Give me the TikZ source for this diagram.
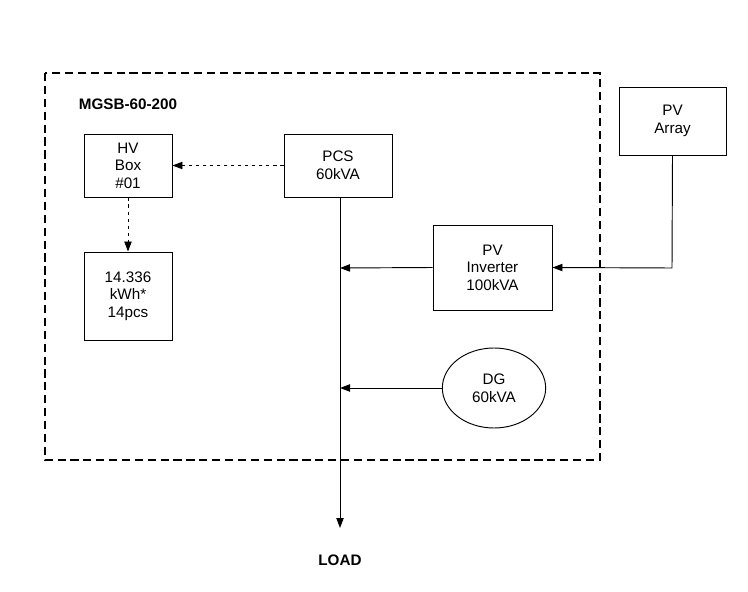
\documentclass[tikz,border=0pt]{standalone}
\usepackage{fontspec}
\setmainfont{Liberation Sans}
\usetikzlibrary{arrows.meta}
\usetikzlibrary{positioning}
\usetikzlibrary{shapes.geometric}
\begin{document}
\begin{tikzpicture}[
				x=0.03cm, y=-0.03cm,
				font=\fontsize{13}{15}\selectfont,
				arrow/.style={thick, -{Triangle[length=3mm, width=2.2mm]}},
				darrow/.style={thick, dashed, -{Triangle[length=3mm, width=2.2mm]}},
				block/.style={draw, thick, align=center, inner sep=0pt},
			]
				\useasboundingbox (0,0) rectangle (748,592);
				\draw[very thick, dash pattern=on 7pt off 4pt] (45,73) rectangle (600,460);
				\node[font=\fontsize{13}{15}\selectfont\bfseries] (title) at (128,104) {MGSB-60-200};

				\node[block, minimum width=88\pgflinewidth, text width=2.64cm, minimum height=1.89cm] (hvbox) at (128,165.5) {HV\\Box\\\#01};
				\node[block, text width=3.24cm, minimum height=1.89cm] (pcs) at (338,165.5) {PCS\\60kVA};
				\node[block, text width=2.64cm, minimum height=2.64cm] (battery) at (128,296) {14.336\\kWh*\\14pcs};
				\node[block, text width=3.21cm, minimum height=2.04cm] (array) at (672.5,121) {PV\\Array};
				\node[block, text width=3.57cm, minimum height=2.55cm] (inverter) at (492.5,267.5) {PV\\Inverter\\100kVA};
				\node[draw, thick, ellipse, minimum width=3.1cm, minimum height=2.4cm, align=center, inner sep=0pt] (dg) at (494,388) {DG\\60kVA};
				\node[font=\fontsize{13}{15}\selectfont\bfseries] (load) at (340,560) {LOAD};

				\coordinate (top) at (340,197);
				\coordinate (bottom) at (340,528);
				\coordinate (invjoin) at (340,268);
				\coordinate (dgjoin) at (340,388);
				\coordinate (corner) at (672,268);

				\draw[arrow] (top) -- (bottom);
				\draw[arrow] (array.south) -- (corner) -- (inverter.east);
				\draw[arrow] (inverter.west) -- (invjoin);
				\draw[arrow] (dg.west) -- (dgjoin);
				\draw[darrow] (pcs.west) -- (hvbox.east);
				\draw[darrow] (hvbox.south) -- (battery.north);
			\end{tikzpicture}
\end{document}
